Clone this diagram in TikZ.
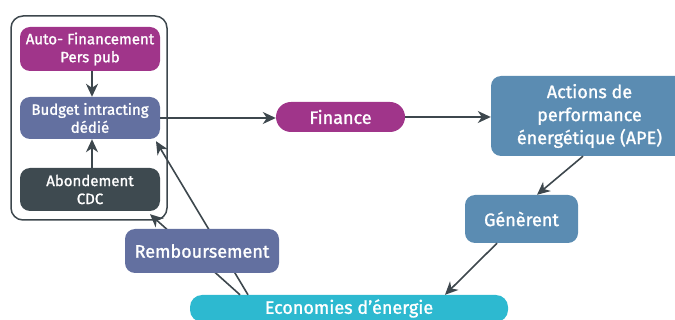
\documentclass[tikz,border=0pt]{standalone}
\usepackage{fontspec}
\setmainfont{Fira Sans}[UprightFeatures={FakeBold=1.3}]
\usetikzlibrary{arrows.meta}
\definecolor{cmag}{HTML}{A0358A}
\definecolor{cslate}{HTML}{6370A0}
\definecolor{cdark}{HTML}{3E4A50}
\definecolor{cblue}{HTML}{5B8CB2}
\definecolor{ccyan}{HTML}{2DB9D0}
\definecolor{cline}{HTML}{3D474D}
\tikzset{
  box/.style={rounded corners=10pt, text=white, align=center, inner sep=0pt, draw=none},
  smalltxt/.style={font=\fontsize{15}{18}\selectfont},
  bigtxt/.style={font=\fontsize{18}{23}\selectfont},
  conn/.style={draw=cline, line width=1.6pt, -{Stealth[length=13pt,width=12pt,inset=4pt]}},
}
\begin{document}
\begin{tikzpicture}[x=1pt,y=-1pt]
\useasboundingbox (0,0) rectangle (675,320);
% container
\node[draw=cline, line width=1.5pt, rounded corners=12pt, minimum width=156pt, minimum height=204pt, inner sep=0pt] (cont) at (89,118) {};
\node[box, smalltxt, fill=cmag, minimum width=140pt, minimum height=44pt] (auto) at (90,49) {Auto- Financement\\Pers pub};
\node[box, smalltxt, fill=cslate, minimum width=140pt, minimum height=42pt] (budget) at (90,118) {Budget intracting\\dédié};
\node[box, smalltxt, fill=cdark, minimum width=140pt, minimum height=43pt] (abon) at (90,189.5) {Abondement\\CDC};
\node[box, bigtxt, fill=cmag, rounded corners=15pt, minimum width=129pt, minimum height=30pt] (finance) at (340.5,117) {Finance};
\node[box, bigtxt, fill=cblue, minimum width=197pt, minimum height=80pt] (actions) at (589.5,116) {Actions de\\performance\\énergétique (APE)};
\node[box, bigtxt, fill=cblue, minimum width=113pt, minimum height=48pt] (gen) at (521.5,219) {Génèrent};
\node[box, bigtxt, fill=ccyan, rounded corners=12pt, minimum width=318pt, minimum height=27pt] (eco) at (349,308.5) {Economies d’énergie};
% connectors
\draw[conn] ([xshift=2pt]auto.south) -- ([xshift=2pt]budget.north);
\draw[conn] ([xshift=2pt]abon.north) -- ([xshift=2pt]budget.south);
\draw[conn] (budget.east) -- (budget.east -| finance.west);
\draw[conn] (finance.east) -- (finance.east -| actions.west);
\draw[conn] ([xshift=-6.5pt]actions.south) -- ([xshift=15.5pt]gen.north);
\draw[conn] ([xshift=-24.5pt]gen.south) -- ([xshift=96pt]eco.north);
\draw[conn] ([xshift=-109pt]eco.north) -- ([xshift=60pt,yshift=-3pt]abon.south);
\draw[conn] ([xshift=-101pt]eco.north) -- ([xshift=66pt,yshift=-2pt]budget.south);
\node[box, bigtxt, fill=cslate, minimum width=154pt, minimum height=44pt] (remb) at (202,251) {Remboursement};
\end{tikzpicture}
\end{document}
